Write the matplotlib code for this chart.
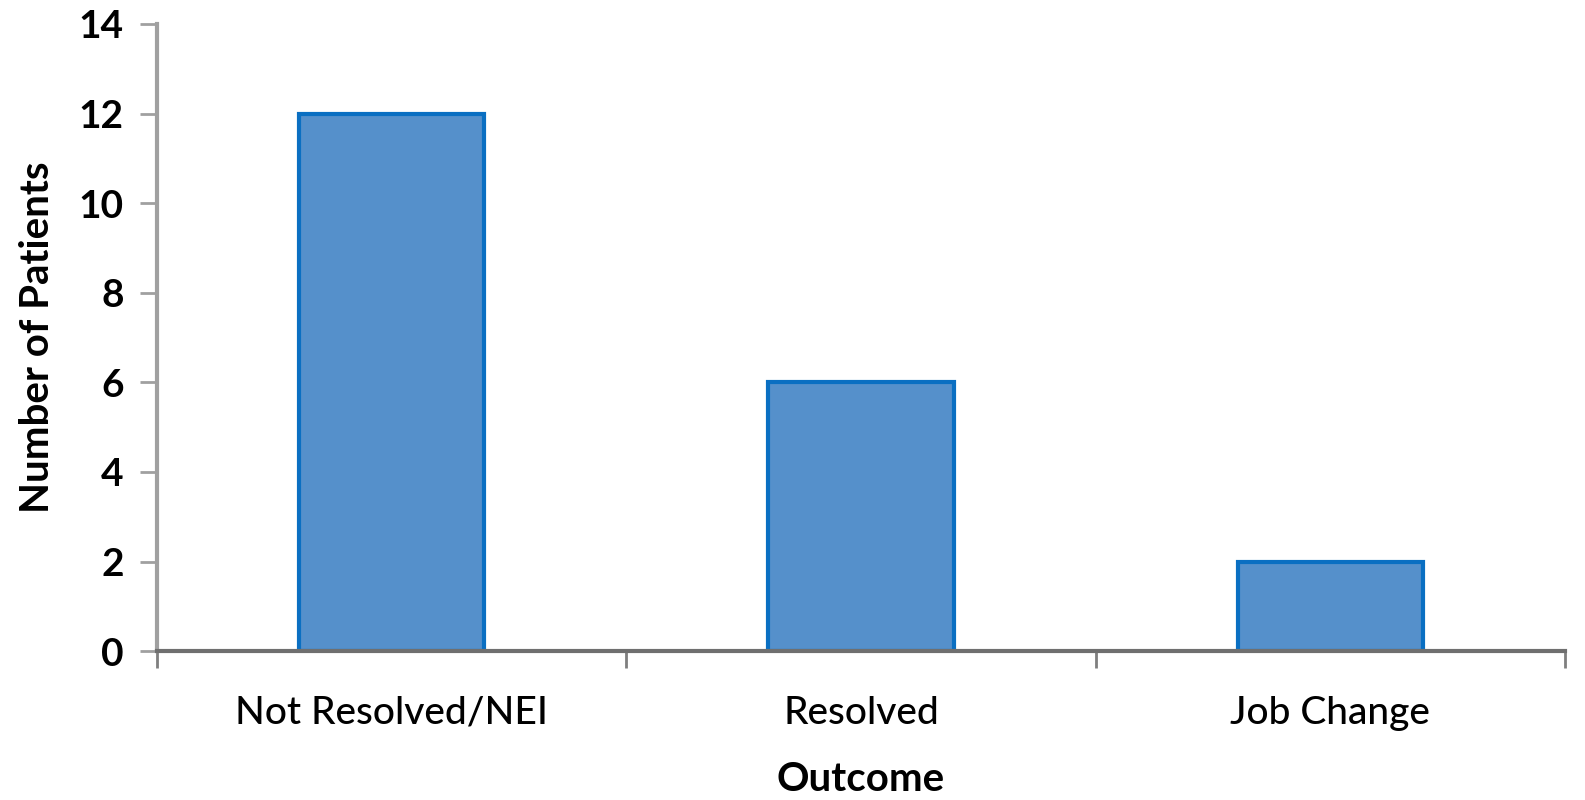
import matplotlib
matplotlib.use("Agg")
import matplotlib.pyplot as plt

# patient counts by outcome
outcomes = ["Not Resolved/NEI", "Resolved", "Job Change"]
patients = [12, 6, 2]
yticks = [0, 2, 4, 6, 8, 10, 12, 14]

plt.rcParams['font.family'] = ['Lato', 'DejaVu Sans']

fig = plt.figure(figsize=(15.85, 8), dpi=100)
ax = fig.add_axes([0.099, 0.186, 0.8884, 0.784])

x = range(len(outcomes))
ax.bar(x, patients, width=0.395, color='#5590CB', edgecolor='#0A6FC2', linewidth=3)

ax.set_xlim(-0.5, len(outcomes) - 0.5)
ax.set_ylim(0, 14)
ax.set_yticks(yticks)
ax.set_yticklabels([str(v) for v in yticks], fontsize=28, fontweight='bold')

# category ticks sit on the boundaries between bars
ax.set_xticks([i + 0.5 for i in range(-1, len(outcomes))], minor=False)
ax.set_xticklabels([])
ax.tick_params(axis='x', which='major', length=12, width=2, color='#7f7f7f')
ax.set_xticks(list(x), minor=True)
ax.set_xticklabels(outcomes, minor=True, fontsize=28, fontweight='medium')
ax.tick_params(axis='x', which='minor', length=0, pad=32)
ax.tick_params(axis='y', length=12, width=2, color='#a0a0a0', pad=12)

for s in ['top', 'right']:
    ax.spines[s].set_visible(False)
ax.spines['left'].set_color('#a0a0a0')
ax.spines['left'].set_linewidth(3)
ax.spines['bottom'].set_color('#6f6f6f')
ax.spines['bottom'].set_linewidth(3)

ax.set_xlabel("Outcome", fontsize=29, fontweight='bold', labelpad=22)
ax.set_ylabel("Number of Patients", fontsize=29, fontweight='bold', labelpad=16)

fig.savefig("out.png", dpi=100)
